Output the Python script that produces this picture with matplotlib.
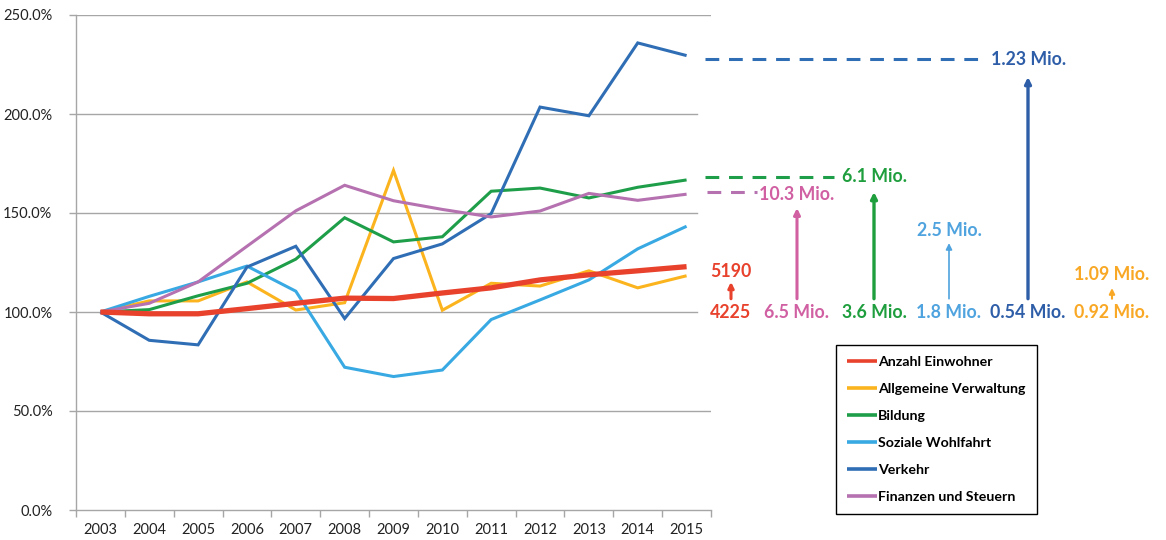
import matplotlib
matplotlib.use("Agg")
import matplotlib.pyplot as plt
from matplotlib.transforms import blended_transform_factory

plt.rcParams['font.family'] = ['Lato', 'DejaVu Sans']

years = ['2003', '2004', '2005', '2006', '2007', '2008', '2009', '2010',
         '2011', '2012', '2013', '2014', '2015']

einwohner = [100, 99.1, 99.1, 101.7, 104.4, 107.0, 106.8, 109.6, 112.2, 116.2, 118.8, 120.8, 122.9]
verwaltung = [100, 105.6, 105.6, 115.2, 101.0, 104.7, 171.5, 100.9, 114.5, 113.1, 120.8, 112.2, 118.3]
bildung = [100, 101.2, 108.2, 114.5, 126.7, 147.6, 135.4, 138.0, 161.0, 162.6, 157.6, 163.0, 166.7]
wohlfahrt = [100, 107.9, 115.2, 123.2, 110.5, 72.1, 67.4, 70.7, 96.2, 106.1, 116.2, 131.9, 143.3]
verkehr = [100, 85.7, 83.4, 122.7, 133.2, 96.7, 127.0, 134.4, 149.7, 203.5, 199.1, 235.9, 229.5]
finanzen = [100, 104.4, 115.2, 133.2, 151.1, 164.0, 156.2, 151.8, 148.0, 151.0, 159.9, 156.4, 159.5]

labels = ['Anzahl Einwohner', 'Allgemeine Verwaltung', 'Bildung',
          'Soziale Wohlfahrt', 'Verkehr', 'Finanzen und Steuern']
colors = ['#E8412C', '#FBB41E', '#1F9E4A', '#38A9E2', '#2F6EB5', '#B571B0']
widths = [3.8, 2.2, 2.2, 2.2, 2.2, 2.2]
series = [einwohner, verwaltung, bildung, wohlfahrt, verkehr, finanzen]

# annotation texts
start_labels = ['4225', '6.5 Mio.', '3.6 Mio.', '1.8 Mio.', '0.54 Mio.', '0.92 Mio.']
end_labels = ['5190', '10.3 Mio.', '6.1 Mio.', '2.5 Mio.', '1.23 Mio.', '1.09 Mio.']

W, H = 1166, 540
fig = plt.figure(figsize=(W / 100, H / 100), dpi=100)
ax = fig.add_axes([76 / W, 30 / H, 635 / W, 495 / H])

x = list(range(len(years)))
order = [1, 2, 3, 4, 5, 0]
lines = {}
for i in order:
    ln, = ax.plot(x, series[i], color=colors[i], lw=widths[i], label=labels[i],
                  solid_capstyle='butt', solid_joinstyle='miter', zorder=3 + (1 if i == 0 else 0))
    lines[i] = ln

ax.set_xlim(-0.5, len(years) - 0.5)
ax.set_ylim(0, 250)
ax.set_yticks([0, 50, 100, 150, 200, 250])
ax.set_yticklabels(['%.1f%%' % v for v in [0, 50, 100, 150, 200, 250]], fontsize=10.5, color='#222222')
ax.set_xticks(x)
ax.set_xticklabels(years, fontsize=10.5, color='#222222')
ax.set_xticks([v - 0.5 for v in range(len(years) + 1)], minor=True)
ax.tick_params(axis='x', which='major', length=0, pad=9)
ax.tick_params(axis='x', which='minor', length=5, color='#A6A6A6', width=1)
ax.tick_params(axis='y', length=5, color='#A6A6A6', width=1, pad=12)

for s in ['top', 'right']:
    ax.spines[s].set_visible(False)
for s in ['left', 'bottom']:
    ax.spines[s].set_color('#A6A6A6')
    ax.spines[s].set_linewidth(1)

for v in [50, 250]:
    ax.axhline(v, color='#A6A6A6', lw=1, zorder=1)
for v in [100, 150, 200]:
    ax.axhline(v, xmin=0, xmax=(697 - 76) / 635, color='#A6A6A6', lw=1, zorder=1)

# annotations: x in figure pixels, y in data units
tr = blended_transform_factory(fig.transFigure, ax.transData)
fx = lambda px: px / W

text_cols = ['#E8412C', '#D060A2', '#1F9E3E', '#4FA3DE', '#2F5EA8', '#F9A825']
arrow_cols = ['#E8412C', '#D060A2', '#1F9E3E', '#4FA3DE', '#2F5EA8', '#F9A825']
centers = [731, 796, 874, 949, 1028, 1112]
base_y = 99.5
arrow_base = 106.7
arrow_tops = [115.2, 152.5, 160.6, 134.8, 218.7, 112.1]
arrow_lw = [2.2, 2.2, 2.4, 1.2, 2.4, 1.5]
end_pos = [(731, 120.7), (797, 159.1), (874, 168.2), (949, 141.4), (1029, 227.3), (1112, 118.7)]

for k in range(6):
    ax.text(fx(centers[k]), base_y, start_labels[k], transform=tr, ha='center', va='center',
            fontsize=12.8, color=text_cols[k], fontweight='bold', clip_on=False)
    ex, ey = end_pos[k]
    ax.text(fx(ex), ey, end_labels[k], transform=tr, ha='center', va='center',
            fontsize=12.8, color=text_cols[k], fontweight='bold', clip_on=False)
    ax.annotate('', xy=(fx(centers[k] if k != 1 else 797), arrow_tops[k]),
                xytext=(fx(centers[k] if k != 1 else 797), arrow_base),
                xycoords=tr, textcoords=tr, annotation_clip=False,
                arrowprops=dict(arrowstyle='-|>', color=arrow_cols[k], lw=arrow_lw[k],
                                mutation_scale=9 if k not in (0, 5) else 8,
                                shrinkA=0, shrinkB=0))

# dashed lines from end of series
dash_specs = [(4, 705, 978, '#2F6EB5'), (2, 705, 834, '#1F9E4A'), (5, 707, 757, '#B571B0')]
dash_levels = [227.8, 168.2, 160.6]
for (i, x0, x1, c), lvl in zip(dash_specs, dash_levels):
    ax.plot([fx(x0), fx(x1)], [lvl, lvl], transform=tr, color=c, lw=2.2,
            dashes=(4.5, 3.2), clip_on=False)

handles = [lines[i] for i in range(6)]
leg = fig.legend(handles, labels, loc='upper left',
                 bbox_to_anchor=(836 / W, 1 - 345 / H), frameon=True, fancybox=False,
                 edgecolor='#000000', framealpha=1, handlelength=2.1, handletextpad=0.1,
                 labelspacing=1.06, borderpad=0.78, borderaxespad=0,
                 prop={'weight': 'bold', 'size': 10.2})
leg.get_frame().set_linewidth(1)
for h in leg.legend_handles:
    h.set_linewidth(2.6)

fig.savefig('out.png', dpi=100)
